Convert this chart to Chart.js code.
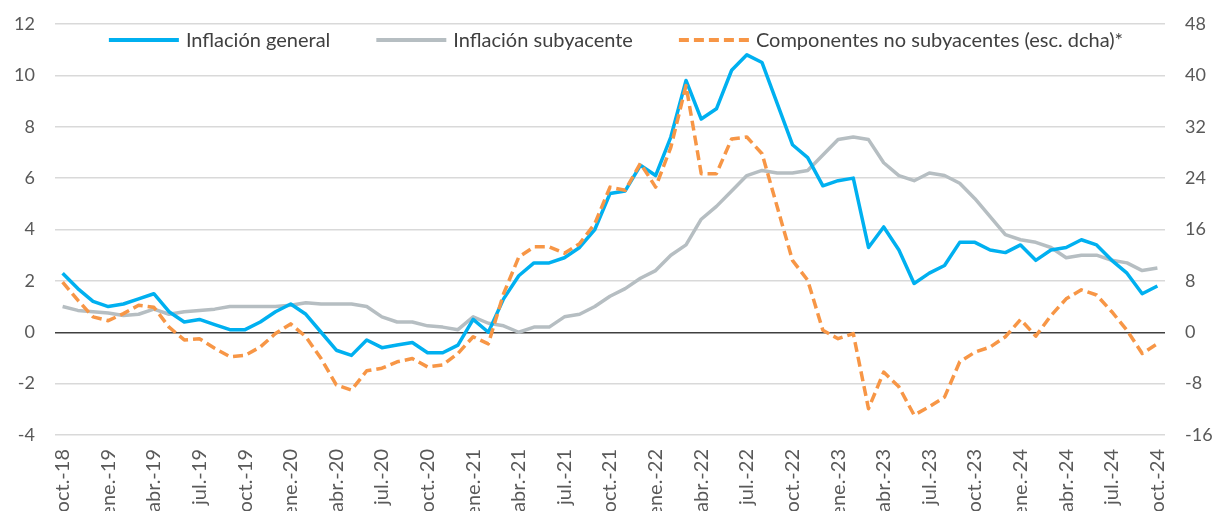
<!DOCTYPE html>
<html>
<head>
<meta charset="utf-8">
<script src="https://cdn.jsdelivr.net/npm/chart.js@4.4.1/dist/chart.umd.min.js"></script>
<style>
    html, body { margin: 0; padding: 0; background: #fff; overflow: hidden; }
    #wrap { width: 1214px; height: 511px; position: relative; }
</style>
</head>
<body>
<div id="wrap"><canvas id="inflacion"></canvas></div>
<script>
// meses, oct.-18 a oct.-24
const meses = [
    'oct.-18', 'nov.-18', 'dic.-18',
    'ene.-19', 'feb.-19', 'mar.-19', 'abr.-19', 'may.-19', 'jun.-19', 'jul.-19', 'ago.-19', 'sep.-19', 'oct.-19', 'nov.-19', 'dic.-19',
    'ene.-20', 'feb.-20', 'mar.-20', 'abr.-20', 'may.-20', 'jun.-20', 'jul.-20', 'ago.-20', 'sep.-20', 'oct.-20', 'nov.-20', 'dic.-20',
    'ene.-21', 'feb.-21', 'mar.-21', 'abr.-21', 'may.-21', 'jun.-21', 'jul.-21', 'ago.-21', 'sep.-21', 'oct.-21', 'nov.-21', 'dic.-21',
    'ene.-22', 'feb.-22', 'mar.-22', 'abr.-22', 'may.-22', 'jun.-22', 'jul.-22', 'ago.-22', 'sep.-22', 'oct.-22', 'nov.-22', 'dic.-22',
    'ene.-23', 'feb.-23', 'mar.-23', 'abr.-23', 'may.-23', 'jun.-23', 'jul.-23', 'ago.-23', 'sep.-23', 'oct.-23', 'nov.-23', 'dic.-23',
    'ene.-24', 'feb.-24', 'mar.-24', 'abr.-24', 'may.-24', 'jun.-24', 'jul.-24', 'ago.-24', 'sep.-24', 'oct.-24'
];

const inflacionGeneral = [
    2.3, 1.7, 1.2,
    1.0, 1.1, 1.3, 1.5, 0.8, 0.4, 0.5, 0.3, 0.1, 0.1, 0.4, 0.8,
    1.1, 0.7, 0.0, -0.7, -0.9, -0.3, -0.6, -0.5, -0.4, -0.8, -0.8, -0.5,
    0.5, 0.0, 1.3, 2.2, 2.7, 2.7, 2.9, 3.3, 4.0, 5.4, 5.5, 6.5,
    6.1, 7.6, 9.8, 8.3, 8.7, 10.2, 10.8, 10.5, 8.9, 7.3, 6.8, 5.7,
    5.9, 6.0, 3.3, 4.1, 3.2, 1.9, 2.3, 2.6, 3.5, 3.5, 3.2, 3.1,
    3.4, 2.8, 3.2, 3.3, 3.6, 3.4, 2.8, 2.3, 1.5, 1.8
];

const inflacionSubyacente = [
    1.0, 0.85, 0.8,
    0.75, 0.65, 0.7, 0.9, 0.7, 0.8, 0.85, 0.9, 1.0, 1.0, 1.0, 1.0,
    1.05, 1.15, 1.1, 1.1, 1.1, 1.0, 0.6, 0.4, 0.4, 0.25, 0.2, 0.1,
    0.6, 0.35, 0.25, 0.0, 0.2, 0.2, 0.6, 0.7, 1.0, 1.4, 1.7, 2.1,
    2.4, 3.0, 3.4, 4.4, 4.9, 5.5, 6.1, 6.3, 6.2, 6.2, 6.3, 6.9,
    7.5, 7.6, 7.5, 6.6, 6.1, 5.9, 6.2, 6.1, 5.8, 5.2, 4.5, 3.8,
    3.6, 3.5, 3.3, 2.9, 3.0, 3.0, 2.8, 2.7, 2.4, 2.5
];

// escala derecha
const noSubyacentes = [
    7.8, 5.0, 2.4,
    1.8, 2.9, 4.2, 3.9, 0.8, -1.2, -1.0, -2.5, -3.8, -3.6, -2.3, -0.2,
    1.3, -0.7, -4.1, -8.2, -9.0, -6.0, -5.6, -4.6, -4.1, -5.4, -5.1, -3.3,
    -0.7, -1.8, 6.0, 11.7, 13.3, 13.3, 12.3, 13.8, 16.9, 22.6, 22.1, 26.3,
    22.6, 28.8, 38.4, 24.7, 24.7, 30.1, 30.4, 27.8, 19.5, 11.2, 8.1, 0.3,
    -1.0, -0.2, -11.9, -6.2, -8.5, -12.9, -11.6, -10.1, -4.6, -3.1, -2.3, -0.7,
    2.0, -0.6, 2.6, 5.2, 6.6, 5.8, 3.2, 0.3, -3.3, -1.8
];

const ticksIzq = [-4, 12, 2];
const ticksDcha = [-16, 48, 8];

const FUENTE = 'Lato, "Open Sans", sans-serif';
const COLOR_TEXTO = '#595959';

// leyenda dentro del grafico, arriba
const leyendaPlugin = {
    id: 'leyendaArriba',
    afterDraw(chart) {
        const ctx = chart.ctx;
        ctx.save();
        ctx.font = '20px ' + FUENTE;
        ctx.textBaseline = 'middle';
        const largoLinea = 70, hueco = 7, separacion = 46;
        const items = chart.data.datasets.map(ds => ({ ds, w: ctx.measureText(ds.label).width }));
        let total = 0;
        items.forEach((it, i) => { total += largoLinea + hueco + it.w + (i < items.length - 1 ? separacion : 0); });
        let x = 616 - total / 2;
        const y = 40;
        items.forEach(it => {
            ctx.beginPath();
            ctx.strokeStyle = it.ds.borderColor;
            ctx.lineWidth = it.ds.borderWidth + 0.5;
            ctx.setLineDash(it.ds.borderDash || []);
            ctx.lineCap = 'butt';
            ctx.moveTo(x, y);
            ctx.lineTo(x + largoLinea, y);
            ctx.stroke();
            ctx.setLineDash([]);
            ctx.fillStyle = '#404040';
            ctx.fillText(it.ds.label, x + largoLinea + hueco, y + 1);
            x += largoLinea + hueco + it.w + separacion;
        });
        ctx.restore();
    }
};

// etiquetas del eje x giradas hacia arriba
const etiquetasX = {
    id: 'etiquetasX',
    afterDraw(chart) {
        const ctx = chart.ctx;
        const xs = chart.scales.x;
        ctx.save();
        ctx.font = '20px ' + FUENTE;
        ctx.fillStyle = COLOR_TEXTO;
        ctx.textAlign = 'right';
        ctx.textBaseline = 'middle';
        meses.forEach((m, i) => {
            if (i % 3 !== 0) return;
            const px = xs.getPixelForValue(i);
            ctx.save();
            ctx.translate(px, chart.chartArea.bottom + 14);
            ctx.rotate(-Math.PI / 2);
            ctx.fillText(m, 0, 0);
            ctx.restore();
        });
        ctx.restore();
    }
};

// sin margen extra de las etiquetas verticales
function ajustarEje(ancho) {
    return s => {
        s.width = ancho;
        s.paddingTop = 0;
        s.paddingBottom = 0;
    };
}

const ctx = document.getElementById('inflacion').getContext('2d');

new Chart(ctx, {
    type: 'line',
    data: {
        labels: meses,
        datasets: [
            {
                label: 'Inflación general',
                data: inflacionGeneral,
                borderColor: '#00B0F0',
                borderWidth: 3.5,
                yAxisID: 'y',
                order: 2
            },
            {
                label: 'Inflación subyacente',
                data: inflacionSubyacente,
                borderColor: '#B6BEC2',
                borderWidth: 3.5,
                yAxisID: 'y',
                order: 3
            },
            {
                label: 'Componentes no subyacentes (esc. dcha)*',
                data: noSubyacentes,
                borderColor: '#F79646',
                borderWidth: 3.5,
                borderDash: [10, 5],
                yAxisID: 'y1',
                order: 1
            }
        ]
    },
    options: {
        responsive: true,
        maintainAspectRatio: false,
        animation: false,
        layout: { padding: { top: 24, bottom: 76, left: 0, right: 0 } },
        elements: {
            point: { radius: 0 },
            line: { tension: 0, borderJoinStyle: 'round' }
        },
        plugins: {
            legend: { display: false },
            tooltip: { enabled: false }
        },
        scales: {
            x: {
                offset: true,
                grid: { display: false },
                border: { display: false },
                ticks: { display: false },
                afterFit: s => { s.height = 0; s.paddingLeft = 0; s.paddingRight = 0; }
            },
            y: {
                position: 'left',
                min: ticksIzq[0],
                max: ticksIzq[1],
                ticks: {
                    stepSize: ticksIzq[2],
                    padding: 20,
                    color: COLOR_TEXTO,
                    font: { family: FUENTE, size: 18 }
                },
                grid: {
                    drawTicks: false,
                    lineWidth: 1.5,
                    color: c => c.tick && c.tick.value === 0 ? '#404040' : '#D9D9D9'
                },
                border: { display: false },
                afterFit: ajustarEje(55)
            },
            y1: {
                position: 'right',
                min: ticksDcha[0],
                max: ticksDcha[1],
                ticks: {
                    stepSize: ticksDcha[2],
                    padding: 20,
                    color: COLOR_TEXTO,
                    font: { family: FUENTE, size: 18 }
                },
                grid: { display: false, drawTicks: false },
                border: { display: false },
                afterFit: ajustarEje(49)
            }
        }
    },
    plugins: [leyendaPlugin, etiquetasX]
});
</script>
</body>
</html>
